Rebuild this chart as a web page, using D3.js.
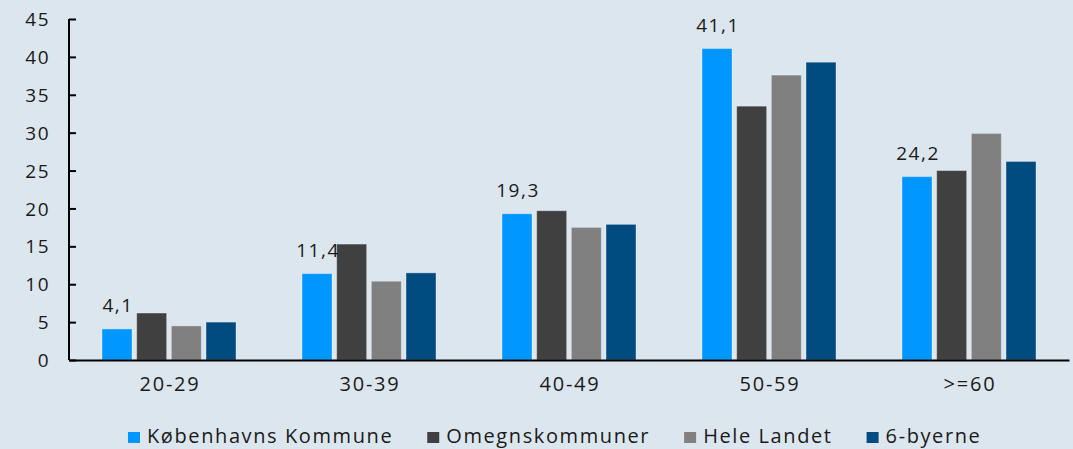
<!DOCTYPE html>
<html>
<head>
<meta charset="utf-8">
<script src="https://cdn.jsdelivr.net/npm/d3@7"></script>
<style>
  html, body { margin: 0; padding: 0; background: #dce6ef; }
  svg { display: block; }
  .labelText { font-family: "Open Sans", sans-serif; font-size: 19px; fill: #1a1a1a; letter-spacing: 1.5px; }
  .catText { font-family: "Open Sans", sans-serif; font-size: 20px; fill: #1a1a1a; letter-spacing: 1.8px; }
  .legendText { font-family: "Open Sans", sans-serif; font-size: 20px; fill: #1a1a1a; letter-spacing: 1.6px; }
</style>
</head>
<body>
<svg id="chart" width="1073" height="449"></svg>
<script>
const width = 1073;
const height = 449;

const ageGroups = ['20-29', '30-39', '40-49', '50-59', '>=60'];
const seriesNames = ['Københavns Kommune', 'Omegnskommuner', 'Hele Landet', '6-byerne'];
const seriesColors = ['#0096ff', '#404040', '#808080', '#004b80'];

const koebenhavn = [4.1, 11.4, 19.3, 41.1, 24.2];
const omegn = [6.2, 15.3, 19.7, 33.5, 25.0];
const heleLandet = [4.5, 10.4, 17.5, 37.6, 29.9];
const seksByerne = [5.0, 11.5, 17.9, 39.3, 26.2];

const yTicks = [0, 5, 10, 15, 20, 25, 30, 35, 40, 45];

const allSeries = [koebenhavn, omegn, heleLandet, seksByerne];

const svg = d3.select('#chart');

const x0 = d3.scaleBand()
  .domain(ageGroups)
  .range([69, 1069])
  .padding(0);

// bars sit in the middle of each group
const x1 = d3.scaleBand()
  .domain(seriesNames)
  .range([33, 167])
  .paddingInner(0.135);

const y = d3.scaleLinear()
  .domain([0, 45])
  .range([360, 19]);

// bars
const groups = svg.append('g')
  .selectAll('g')
  .data(ageGroups)
  .enter()
  .append('g')
  .attr('transform', (d) => `translate(${x0(d)},0)`);

groups.selectAll('rect')
  .data((d, gi) => seriesNames.map((s, si) => ({ series: s, value: allSeries[si][gi], color: seriesColors[si] })))
  .enter()
  .append('rect')
  .attr('x', (d) => x1(d.series))
  .attr('y', (d) => y(d.value))
  .attr('width', x1.bandwidth())
  .attr('height', (d) => y(0) - y(d.value))
  .attr('fill', (d) => d.color)
  .attr('stroke', 'rgba(255,255,255,0.35)')
  .attr('stroke-width', 1);

// value labels for Københavns Kommune
groups.append('text')
  .attr('class', 'labelText')
  .attr('x', () => x1(seriesNames[0]) + x1.bandwidth() / 2 + 1)
  .attr('y', (d, i) => y(koebenhavn[i]) - 17)
  .attr('text-anchor', 'middle')
  .text((d, i) => d3.format('.1f')(koebenhavn[i]).replace('.', ','));

// y axis
const yAxis = svg.append('g')
  .attr('transform', 'translate(69,0)')
  .call(d3.axisRight(y).tickValues(yTicks).tickSize(7).tickFormat(d3.format('d')));

yAxis.select('.domain').attr('stroke', '#000').attr('stroke-width', 2).attr('d', `M0,${y(45)}V${y(0)}`);
yAxis.selectAll('.tick line').attr('stroke', '#000').attr('stroke-width', 2);
yAxis.selectAll('.tick text')
  .attr('class', 'labelText')
  .attr('x', -19)
  .attr('text-anchor', 'end')
  .attr('dy', '0.35em');

// x axis
const xAxis = svg.append('g')
  .attr('transform', `translate(0,${y(0)})`)
  .call(d3.axisBottom(x0).tickSize(0).tickPadding(17));

xAxis.select('.domain').attr('stroke', '#000').attr('stroke-width', 2);
xAxis.selectAll('.tick text').attr('class', 'catText').attr('dx', '1').attr('dy', '0.71em');

// legend
const legend = svg.append('g')
  .attr('transform', 'translate(128,443)');

let legendX = 0;
seriesNames.forEach((name, i) => {
  const item = legend.append('g').attr('transform', `translate(${legendX},0)`);
  item.append('rect')
    .attr('x', 0)
    .attr('y', -11)
    .attr('width', 12)
    .attr('height', 11)
    .attr('fill', seriesColors[i]);
  const t = item.append('text')
    .attr('class', 'legendText')
    .attr('x', 19)
    .attr('y', 0)
    .text(name);
  legendX += 19 + t.node().getComputedTextLength() + 34;
});
</script>
</body>
</html>
